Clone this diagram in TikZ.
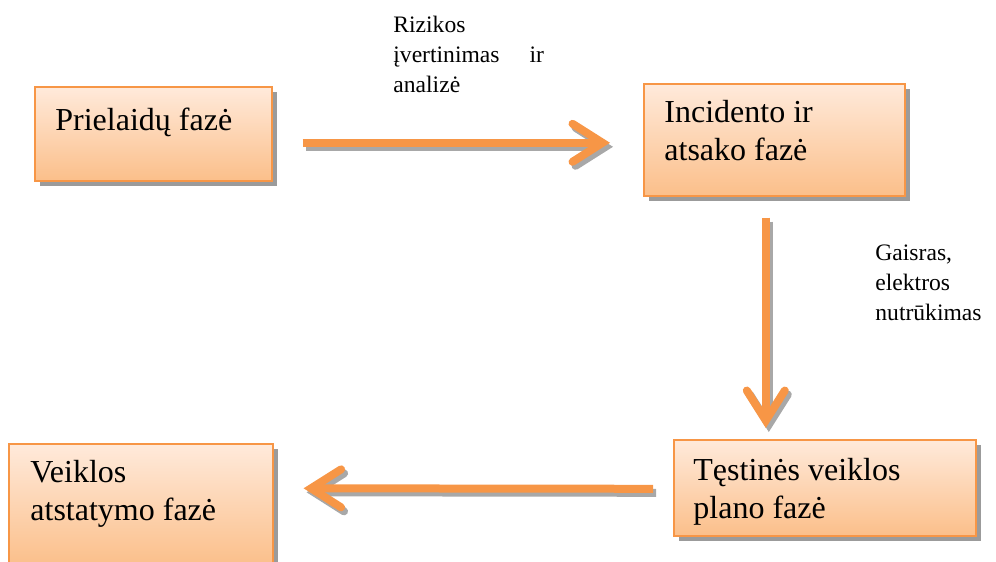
\documentclass[tikz,border=0pt]{standalone}
\usepackage{fontspec}
\setmainfont{Liberation Serif}
\usepackage{xcolor}
\definecolor{colEdge}{HTML}{F79646}
\definecolor{colTop}{HTML}{FFEADB}
\definecolor{colBottom}{HTML}{FBBF8A}
\definecolor{colShadow}{HTML}{9B9B9B}
\definecolor{colArrowShadow}{HTML}{A8A8A8}
\usetikzlibrary{arrows.meta, shadows}

\begin{document}
\begin{tikzpicture}[x=0.5pt, y=-0.5pt,
    phase/.style={rectangle, draw=colEdge, line width=0.8pt, anchor=north west,
                  top color=colTop, bottom color=colBottom, inner sep=0pt,
                  drop shadow={shadow xshift=2.5pt, shadow yshift=-2.5pt,
                               fill=colShadow, opacity=1}},
    phasetext/.style={anchor=base west, inner sep=0pt, align=left,
                      font=\fontsize{16}{19}\selectfont},
    note/.style={anchor=base west, inner sep=0pt, align=left,
                 font=\fontsize{11.8}{15}\selectfont},
    flow/.style={line width=4pt, colEdge,
                 -{Straight Barb[length=15pt, width=19pt, line cap=round, line join=miter]}},
    flowshade/.style={flow, colArrowShadow, transform canvas={xshift=1.5pt, yshift=-2pt}}]
  \useasboundingbox (0,0) rectangle (996,562);
  \clip (0,0) rectangle (996,562);
  % Fazes (base = paskutine eilute)
  \node[phase, minimum width=118.5pt, minimum height=47pt] (PF) at (34,86) {};
  \node[phasetext] (PFt) at ([shift={(21,44)}]PF.north west) {Prielaidų fazė};
  \node[phase, minimum width=130.5pt, minimum height=56pt] (IF) at (643,83) {};
  \node[phasetext] (IFt) at ([shift={(21,77)}]IF.north west) {Incidento ir\\atsako fazė};
  \node[phase, minimum width=151pt, minimum height=48pt] (TF) at (673,439) {};
  \node[phasetext] (TFt) at ([shift={(20,79)}]TF.north west) {Tęstinės veiklos\\plano fazė};
  \node[phase, minimum width=132pt, minimum height=61pt] (VF) at (8,443) {};
  \node[phasetext] (VFt) at ([shift={(22,77)}]VF.north west) {Veiklos\\atstatymo fazė};
  % Uzrasai
  \node[note] (rizika) at (393,92) {Rizikos\\įvertinimas\hspace{15pt}ir\\analizė};
  \node[note] (gaisras) at (875,320) {Gaisras,\\elektros\\nutrūkimas};
  % Rodykles
  \draw[flowshade] ([shift={(30,9)}]PF.east) -- ([shift={(-33,3)}]IF.west);
  \draw[flow] ([shift={(30,9)}]PF.east) -- ([shift={(-33,3)}]IF.west);
  \draw[flowshade] ([shift={(-8.5,21)}]IF.south) -- ([shift={(-59,-11)}]TF.north);
  \draw[flow] ([shift={(-8.5,21)}]IF.south) -- ([shift={(-59,-11)}]TF.north);
  \draw[flowshade] ([shift={(-20,1)}]TF.west) -- ([shift={(30,-16.5)}]VF.east);
  \draw[flow] ([shift={(-20,1)}]TF.west) -- ([shift={(30,-16.5)}]VF.east);
\end{tikzpicture}
\end{document}
